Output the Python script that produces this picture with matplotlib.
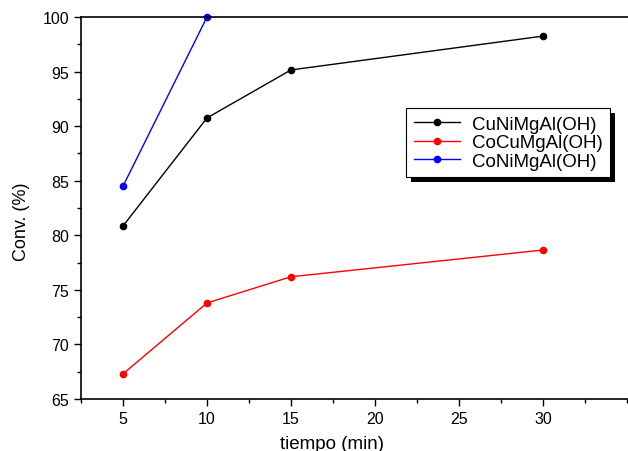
import matplotlib
matplotlib.use('Agg')
import matplotlib.pyplot as plt
from matplotlib.ticker import MultipleLocator
from matplotlib.patches import Rectangle

plt.rcParams['font.family'] = ['Liberation Sans', 'DejaVu Sans']

# Datos
tiempo = [5, 10, 15, 30]
cuni = [80.85, 90.75, 95.15, 98.25]
cocu = [67.3, 73.8, 76.2, 78.65]
tiempo_coni = [5, 10]
coni = [84.5, 100.0]

fig = plt.figure(figsize=(6.28, 4.52), dpi=100)
ax = fig.add_axes([81 / 628, 1 - 400 / 452, (628 - 81) / 628, 382 / 452])

ax.plot(tiempo, cuni, color='black', lw=1, marker='o', ms=4.5, label='CuNiMgAl(OH)', clip_on=False)
ax.plot(tiempo, cocu, color='red', lw=1, marker='o', ms=4.5, label='CoCuMgAl(OH)', clip_on=False)
ax.plot(tiempo_coni, coni, color='blue', lw=1, marker='o', ms=4.5, label='CoNiMgAl(OH)', clip_on=False)

ax.set_xlim(2.5, 35.06)
ax.set_ylim(65, 100)
ax.xaxis.set_major_locator(MultipleLocator(5))
ax.xaxis.set_minor_locator(MultipleLocator(2.5))
ax.yaxis.set_major_locator(MultipleLocator(5))
ax.yaxis.set_minor_locator(MultipleLocator(2.5))
ax.set_xticks([5, 10, 15, 20, 25, 30])
ax.tick_params(which='major', direction='out', length=5, width=1, labelsize=11.5)
ax.tick_params(which='minor', direction='out', length=3, width=1)
ax.spines['right'].set_visible(False)
for s in ['left', 'bottom', 'top']:
    ax.spines[s].set_linewidth(1.2)

ax.set_xlabel('tiempo (min)', fontsize=13.5)
ax.set_ylabel('Conv. (%)', fontsize=13)
# posiciones de las etiquetas en coordenadas de la figura
ax.xaxis.set_label_coords(332 / 628, 1 - 445 / 452, transform=fig.transFigure)
ax.xaxis.label.set_va('center')
ax.yaxis.set_label_coords(21 / 628, 1 - 222 / 452, transform=fig.transFigure)
ax.yaxis.label.set_va('center')

leg = ax.legend(loc='upper left', bbox_to_anchor=(406 / 628, 1 - 109 / 452),
                bbox_transform=fig.transFigure, borderaxespad=0, fontsize=13.5,
                fancybox=False, framealpha=1, edgecolor='black',
                handlelength=2.5, handletextpad=0.6,
                labelspacing=0.08, borderpad=0.4)
leg.get_frame().set_linewidth(0.8)

# sombra negra desplazada del cuadro de la leyenda
fig.canvas.draw()
bb = leg.get_window_extent()
ax.add_patch(Rectangle((bb.x0 + 5, bb.y0 - 5), bb.width, bb.height, transform=None,
                       facecolor='black', edgecolor='none', zorder=4.9, clip_on=False))

fig.savefig('out.png', dpi=100)
